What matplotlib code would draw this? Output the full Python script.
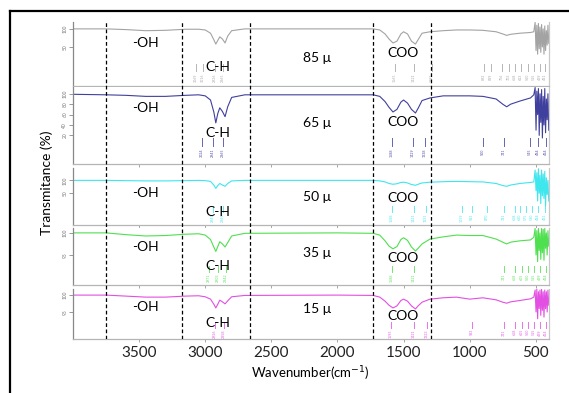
import matplotlib
matplotlib.use("Agg")
import matplotlib.pyplot as plt
from matplotlib.lines import Line2D

plt.rcParams["font.family"] = ["Lato", "DejaVu Sans"]

# wavenumber grid of the smooth part of every spectrum (cm-1)
wavenumber = [4000, 3750, 3600, 3450, 3300, 3150, 3050, 3000, 2960, 2935, 2920, 2905,
              2890, 2870, 2850, 2830, 2800, 2700, 2000, 1730, 1680, 1640, 1610, 1580,
              1550, 1520, 1500, 1470, 1440, 1410, 1390, 1360, 1300, 1200, 1100, 1000,
              900, 800, 750, 720, 690, 620, 540, 515]
# saturated / noisy region at low wavenumber
noise_wn = [505, 498, 492, 486, 480, 474, 468, 462, 456, 450, 444, 438, 432, 426,
            420, 414, 408, 402]

t85 = [100, 100, 98, 95, 96, 99, 99, 97, 88, 70, 58, 68, 78, 72, 61, 80, 95, 100, 100,
       100, 97, 86, 72, 61, 66, 86, 92, 86, 66, 58, 70, 88, 92, 95, 97, 97, 96, 92, 86,
       82, 85, 88, 90, 92]
n85 = [118, 40, 110, 30, 115, 45, 105, 35, 112, 50, 100, 30, 108, 40, 95, 55, 110, 60]

t65 = [99, 98, 97, 95, 95, 97, 98, 96, 88, 65, 44, 62, 73, 66, 56, 75, 93, 98, 98, 98,
       95, 85, 74, 65, 70, 84, 88, 82, 70, 63, 72, 87, 92, 96, 96, 96, 95, 90, 80, 75,
       80, 86, 92, 98]
n65 = [112, 30, 105, 60, 110, 20, 100, 45, 108, 15, 95, 40, 110, 25, 90, 50, 100, 30]

t50 = [100, 100, 99, 98, 98, 99, 100, 99, 96, 82, 69, 80, 88, 82, 77, 88, 98, 100, 100,
       100, 98, 94, 88, 85, 87, 92, 93, 90, 84, 81, 85, 90, 93, 95, 96, 95, 94, 88, 80,
       77, 82, 88, 92, 94]
n50 = [140, 60, 130, 20, 145, 50, 120, 10, 140, 40, 125, 30, 135, 0, 110, 45, 100, 20]

t35 = [100, 100, 99.6, 99.3, 99.4, 99.7, 99.8, 99.5, 98.5, 96.8, 95.8, 96.9, 98.0, 97.5,
       96.8, 97.8, 99.3, 99.9, 100, 99.9, 99.5, 98.2, 97.0, 96.4, 96.9, 98.5, 98.9, 98.3,
       96.8, 95.9, 96.5, 97.5, 98.6, 99.1, 99.5, 99.4, 99.4, 98.6, 97.9, 97.5, 97.9, 98.2,
       98.4, 99.0]
n35 = [101, 95, 100.5, 93.5, 101, 96, 100, 94, 101, 95.5, 100.8, 93.8, 101, 96.5, 100,
       95, 100.5, 97]

t15 = [100, 100, 99.7, 99.4, 99.4, 99.7, 99.8, 99.5, 98.8, 97.3, 96.2, 97.3, 98.5, 98.0,
       97.4, 98.3, 99.5, 99.9, 100, 99.9, 99.4, 98.2, 97.0, 96.2, 96.8, 98.4, 98.8, 98.2,
       96.8, 95.9, 96.8, 97.9, 98.8, 99.2, 99.4, 98.8, 99.2, 98.6, 97.9, 97.6, 98.0, 98.4,
       98.9, 99.4]
n15 = [101.5, 95, 101.8, 93, 101, 96, 101.5, 94, 101.7, 95.5, 101, 93.5, 101.5, 96, 101,
       95, 101.5, 97]

# peak-pick labels printed under each spectrum
peaks85 = [3069, 3016, 2926, 2865, 1565, 1421, 1285, 892, 839, 756, 703, 658, 613, 560,
           515, 469, 431]
peaks65 = [3024, 2941, 2865, 1588, 1429, 1338, 900, 741, 545, 484, 424]
peaks50 = [2941, 2865, 1588, 1421, 1331, 1059, 983, 870, 741, 658, 620, 575, 530, 484, 431]
peaks35 = [2971, 2903, 2842, 1588, 1421, 741, 658, 605, 560, 515, 469, 424]
peaks15 = [2926, 2858, 1595, 1421, 1323, 983, 741, 658, 605, 560, 515, 469, 424]

sizes = ["85 \u03bc", "65 \u03bc", "50 \u03bc", "35 \u03bc", "15 \u03bc"]
bands = ["-OH", "C-H", "COO"]
band_wn = [3455, 2903, 1505]
size_wn = 2155
dashed_wn = [3750, 3175, 2660, 1730, 1290]
xticks = [3500, 3000, 2500, 2000, 1500, 1000, 500]

panels = [
    # values, noise, peaks, colour, ylim, yticks, box (bottom, height), text y (OH, CH, size, COO)
    (t85, n85, peaks85, "#a3a3a3", (-58, 119), [100, 50], (0.7812, 0.1628), (0.67, 0.30, 0.44, 0.52)),
    (t65, n65, peaks65, "#3f3f9e", (-35, 113), [100, 80, 60, 40, 20], (0.5827, 0.1959), (0.73, 0.40, 0.53, 0.545)),
    (t50, n50, peaks50, "#3ee6ee", (-73, 148), [100, 50], (0.4275, 0.1450), (0.56, 0.23, 0.49, 0.47)),
    (t35, n35, peaks35, "#4fe04f", (88.2, 101.1), [100, 95], (0.2748, 0.1450), (0.67, 0.33, 0.56, 0.47)),
    (t15, n15, peaks15, "#e34fe3", (87.0, 101.8), [100, 95], (0.1374, 0.1272), (0.64, 0.32, 0.60, 0.46)),
]

fig = plt.figure(figsize=(5.69, 3.93), dpi=100)
x0, w = 73 / 569, 476 / 569

for i, (vals, noise, peaks, col, ylim, yt, box, ty) in enumerate(panels):
    ax = fig.add_axes([x0, box[0], w, box[1]])
    ax.plot(wavenumber + noise_wn, vals + noise, color=col, lw=0.8)
    ax.set_xlim(4000, 400)
    ax.set_ylim(*ylim)
    ax.set_yticks(yt)
    ax.set_yticklabels([str(v) for v in yt], rotation=90, fontsize=3.5, color="#777777", va="center")
    ax.tick_params(axis="y", length=3, width=0.6, color="#888888", pad=1)
    ax.set_xticks(xticks)
    ax.tick_params(axis="x", length=2, width=0.6, color="#999999")
    if i < 4:
        ax.set_xticklabels([])
    else:
        ax.set_xticklabels([str(v) for v in xticks], fontsize=11, color="#222222")
        ax.tick_params(axis="x", pad=3)
    ax.spines["top"].set_visible(False)
    ax.spines["left"].set_color("#888888")
    ax.spines["bottom"].set_color("#b5b5b5")
    ax.spines["right"].set_color("#c8c8c8")
    for s in ["left", "bottom", "right"]:
        ax.spines[s].set_linewidth(0.9)
    tr = ax.get_xaxis_transform()
    # peak-pick marks
    for p in peaks:
        ax.plot([p, p], [0.23, 0.34], transform=tr, color=col, lw=0.7, alpha=0.8)
        ax.text(p, 0.2, str(p), transform=tr, rotation=90, fontsize=2.6, color=col,
                ha="center", va="top", alpha=0.9)
    # band labels
    ax.text(band_wn[0], ty[0], bands[0], transform=tr, fontsize=10, ha="center", va="center")
    ax.text(band_wn[1], ty[1], bands[1], transform=tr, fontsize=10, ha="center", va="center")
    ax.text(size_wn, ty[2], sizes[i], transform=tr, fontsize=10, ha="center", va="center")
    ax.text(band_wn[2], ty[3], bands[2], transform=tr, fontsize=10, ha="center", va="center")

# dashed guide lines across all panels
ov = fig.add_axes([x0, 0.1374, w, 1 - 22 / 393 - 0.1374])
ov.set_xlim(4000, 400)
ov.set_ylim(0, 1)
ov.axis("off")
for d in dashed_wn:
    ov.axvline(d, color="black", lw=0.9, ls=(0, (3, 2)))

fig.text(47 / 569, 1 - 183 / 393, "Transmitance (%)", rotation=90, fontsize=10,
         ha="center", va="center")
fig.text(310 / 569, 1 - 374 / 393, "Wavenumber(cm$^{-1}$)", fontsize=9.5,
         ha="center", va="center")

# outer frame (open to the right and bottom)
fig.add_artist(Line2D([10 / 569, 1], [1 - 11 / 393] * 2, color="black", lw=1.6))
fig.add_artist(Line2D([10 / 569] * 2, [0, 1 - 11 / 393], color="black", lw=1.6))

fig.savefig("out.png", dpi=100)
